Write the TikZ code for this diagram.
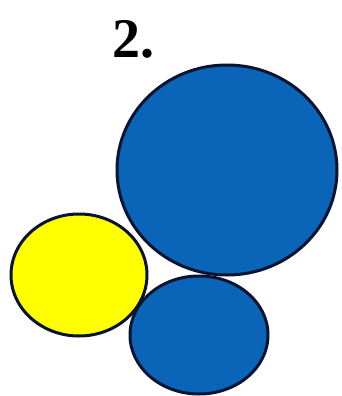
\documentclass[tikz,border=0pt]{standalone}
\usepackage{fontspec}
\setmainfont{Liberation Serif}
\definecolor{cblue}{HTML}{0A64B8}
\definecolor{cyel}{HTML}{FFFF00}
\definecolor{cline}{HTML}{0A1430}
\begin{document}
\begin{tikzpicture}[x=1pt,y=-1pt,
  blob/.style={draw=cline,line width=3pt}]
\useasboundingbox[fill=white] (0,0) rectangle (341,396);
\node[anchor=base west,inner sep=0pt,font=\fontsize{56}{60}\selectfont\bfseries] (lbl) at (112,57) {2.};
\draw[blob,fill=cblue] (227,170) ellipse [x radius=110, y radius=105];
\draw[blob,fill=cyel] (79,275) ellipse [x radius=68, y radius=61];
\draw[blob,fill=cblue] (199,335) ellipse [x radius=69, y radius=59];
\end{tikzpicture}
\end{document}
